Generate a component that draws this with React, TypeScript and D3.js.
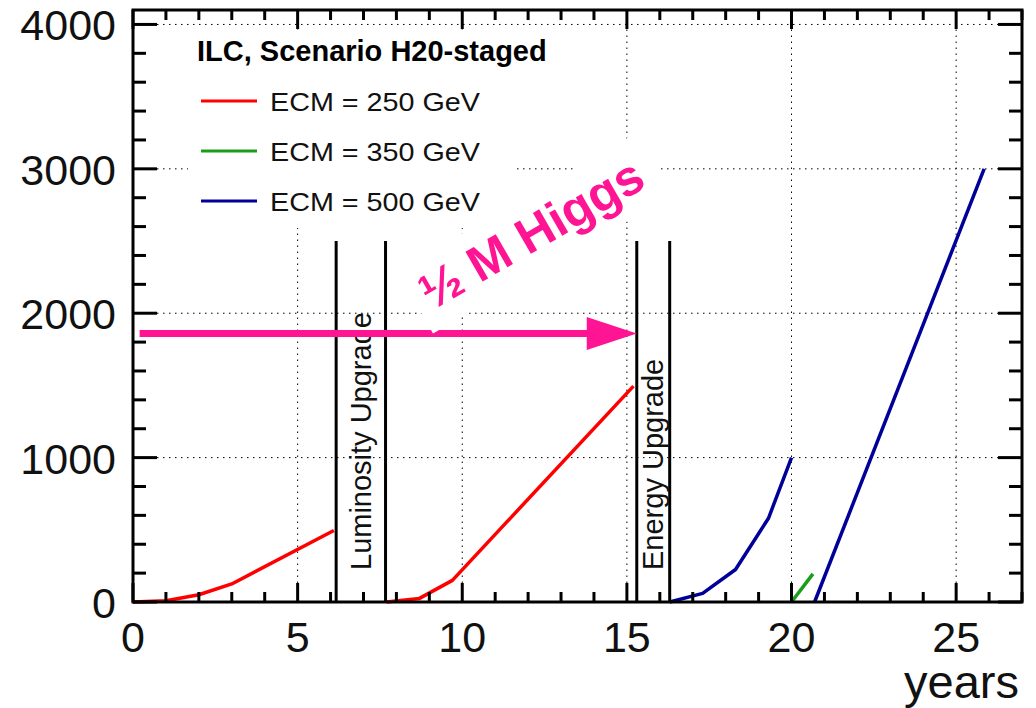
import React, { useEffect, useRef } from 'react'
import * as d3 from 'd3'

// integrated luminosity (fb^-1) vs years
const ecm250First: [number, number][] = [[0, 0], [1, 8], [2, 50], [3, 125], [6.1, 495]]
const ecm250Second: [number, number][] = [[7.7, 0], [8.7, 25], [9.7, 150], [15.2, 1495]]
const ecm350: [number, number][] = [[20, 0], [20.65, 195]]
const ecm500First: [number, number][] = [[16.3, 0], [17.3, 60], [18.3, 225], [19.3, 580], [20, 1000]]
const ecm500Second: [number, number][] = [[20.7, 0], [25.85, 3000]]

const legendTitle = 'ILC, Scenario H20-staged'
const legendLabels = ['ECM = 250 GeV', 'ECM = 350 GeV', 'ECM = 500 GeV']
const seriesColors = ['#ff0000', '#1a9e1a', '#000099']

const upgradeStart = [6.17, 15.3]
const upgradeEnd = [7.67, 16.3]
const upgradeLabels = ['Luminosity Upgrade', 'Energy Upgrade']
const upgradeTop = 2500

const higgsFrom = 0.2
const higgsTo = 15.3
const higgsLevel = 1860
const higgsLabel = '½ M Higgs'

const xTicks = [0, 5, 10, 15, 20, 25]
const yTicks = [0, 1000, 2000, 3000, 4000]
const xTitle = 'years'

const W = 1036
const H = 708

export default function App() {
  const ref = useRef<SVGSVGElement>(null)

  useEffect(() => {
    const svg = d3.select(ref.current)
    svg.selectAll('*').remove()

    const x = d3.scaleLinear().domain([0, 27]).range([133, 1022])
    const y = d3.scaleLinear().domain([0, 4100]).range([602, 10])
    const left = x(0), right = x(27), bottom = y(0), top = y(4100)
    const font = "'Liberation Sans', Arial, Helvetica, sans-serif"

    // grid
    const grid = svg.append('g').attr('stroke', '#000').attr('stroke-width', 1)
      .attr('stroke-dasharray', '1.5,4.5')
    xTicks.filter(d => d > 0).forEach(t => {
      grid.append('line').attr('x1', x(t)).attr('x2', x(t))
        .attr('y1', bottom - 19).attr('y2', top + 19)
    })
    yTicks.filter(d => d > 0).forEach(t => {
      grid.append('line').attr('y1', y(t)).attr('y2', y(t))
        .attr('x1', left + 24).attr('x2', right - 24)
    })

    // legend
    svg.append('rect').attr('x', 188).attr('y', 30).attr('width', 327).attr('height', 198)
      .attr('fill', '#fff')
    svg.append('text').attr('x', 197).attr('y', 61).attr('font-family', font)
      .attr('font-weight', 'bold').attr('font-size', 29).text(legendTitle)
    legendLabels.forEach((lab, i) => {
      const ly = 101 + i * 50
      svg.append('line').attr('x1', 201).attr('x2', 257).attr('y1', ly).attr('y2', ly)
        .attr('stroke', seriesColors[i]).attr('stroke-width', 3)
      svg.append('text').attr('x', 270).attr('y', ly + 10).attr('font-family', font)
        .attr('font-size', 26).attr('textLength', 210).attr('lengthAdjust', 'spacingAndGlyphs')
        .attr('fill', '#111').text(lab)
    })

    // data
    const line = d3.line<[number, number]>().x(d => x(d[0])).y(d => y(d[1]))
    const series: [[number, number][], string][] = [
      [ecm250First, seriesColors[0]],
      [ecm250Second, seriesColors[0]],
      [ecm350, seriesColors[1]],
      [ecm500First, seriesColors[2]],
      [ecm500Second, seriesColors[2]],
    ]
    series.forEach(([pts, c]) => {
      svg.append('path').attr('d', line(pts)).attr('fill', 'none')
        .attr('stroke', c).attr('stroke-width', 3.5).attr('stroke-linejoin', 'round')
    })

    // upgrade periods
    upgradeStart.forEach((s, i) => {
      const e = upgradeEnd[i]
      ;[s, e].forEach(v => {
        svg.append('line').attr('x1', x(v)).attr('x2', x(v))
          .attr('y1', y(upgradeTop)).attr('y2', bottom)
          .attr('stroke', '#000').attr('stroke-width', 3)
      })
      const cx = (x(s) + x(e)) / 2 + 10
      svg.append('text').attr('transform', `translate(${cx},${bottom - 32}) rotate(-90)`)
        .attr('font-family', font).attr('font-size', 29).attr('fill', '#111')
        .text(upgradeLabels[i])
    })

    // higgs arrow
    const tip = x(higgsTo)
    const ay = y(higgsLevel)
    svg.append('line').attr('x1', x(higgsFrom)).attr('x2', tip - 48)
      .attr('y1', ay).attr('y2', ay).attr('stroke', '#ff1493').attr('stroke-width', 7)
    svg.append('path').attr('d', `M${tip - 50},${ay - 16.5}L${tip},${ay}L${tip - 50},${ay + 16.5}Z`)
      .attr('fill', '#ff1493')

    const tb = svg.append('g').attr('transform', `translate(433,${ay}) rotate(-30)`)
    tb.append('rect').attr('x', 0).attr('y', -72).attr('width', 279).attr('height', 72).attr('fill', '#fff')
    tb.append('text').attr('x', 10).attr('y', -20).attr('font-family', font)
      .attr('font-weight', 'bold').attr('font-size', 50).attr('fill', '#ff1493').text(higgsLabel)

    // axes ticks
    const ticks = svg.append('g').attr('stroke', '#000').attr('stroke-width', 3)
    d3.range(0, 28, 1).forEach(t => {
      const len = t % 5 === 0 ? 19 : 10
      ticks.append('line').attr('x1', x(t)).attr('x2', x(t)).attr('y1', bottom).attr('y2', bottom - len)
      ticks.append('line').attr('x1', x(t)).attr('x2', x(t)).attr('y1', top).attr('y2', top + len)
    })
    d3.range(0, 4001, 200).forEach(t => {
      const len = t % 1000 === 0 ? 24 : 13
      ticks.append('line').attr('y1', y(t)).attr('y2', y(t)).attr('x1', left).attr('x2', left + len)
      ticks.append('line').attr('y1', y(t)).attr('y2', y(t)).attr('x1', right).attr('x2', right - len)
    })
    svg.append('rect').attr('x', left).attr('y', top).attr('width', right - left)
      .attr('height', bottom - top).attr('fill', 'none').attr('stroke', '#000').attr('stroke-width', 3)

    // tick labels
    xTicks.forEach(t => {
      svg.append('text').attr('x', x(t)).attr('y', 652).attr('text-anchor', 'middle')
        .attr('font-family', font).attr('font-size', 43).attr('fill', '#111').text(t)
    })
    yTicks.forEach(t => {
      svg.append('text').attr('x', 116).attr('y', y(t) + 16).attr('text-anchor', 'end')
        .attr('font-family', font).attr('font-size', 43).attr('fill', '#111').text(t)
    })
    svg.append('text').attr('x', 1019).attr('y', 698).attr('text-anchor', 'end')
      .attr('font-family', font).attr('font-size', 47).attr('fill', '#111').text(xTitle)
  }, [])

  return (
    <svg ref={ref} width={W} height={H}
      style={{ position: 'absolute', left: 0, top: 0, background: '#fff', display: 'block' }} />
  )
}
